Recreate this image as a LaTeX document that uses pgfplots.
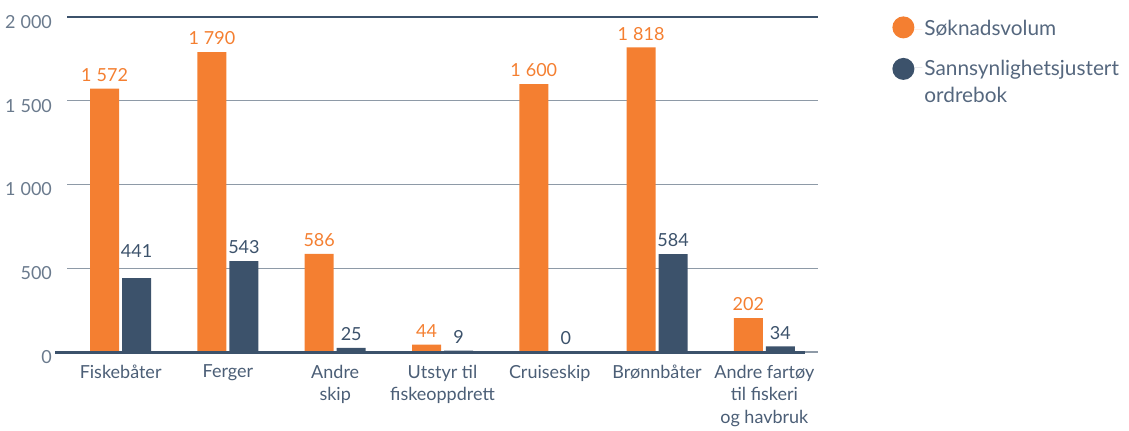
\documentclass[border=0pt]{standalone}
\usepackage{pgfplots}
\pgfplotsset{compat=1.18}
\usepackage{fontspec}
\setmainfont{Lato}
\definecolor{orangeC}{HTML}{F47F31}
\definecolor{darkC}{HTML}{3C526B}
\definecolor{gridC}{HTML}{8E9AA7}
\definecolor{xtxt}{HTML}{4B5E76}
\definecolor{ytxt}{HTML}{6A7A8D}
\definecolor{legtxt}{HTML}{55677E}
\begin{document}
\begin{tikzpicture}
\useasboundingbox (-33.5pt,-39pt) rectangle (531pt,176pt);
\begin{axis}[
  at={(0,0)}, anchor=south west,
  scale only axis, width=375.5pt, height=167.5pt,
  clip=false,
  ybar=1.5pt, bar width=14.5pt,
  xmin=-0.5, xmax=6.5, ymin=0, ymax=2000,
  axis line style={draw=none},
  major tick length=0pt,
  xtick={0,...,6},
  xticklabels={Fiskebåter, Ferger, {Andre\\skip}, {Utstyr til\\fiskeoppdrett}, Cruiseskip, Brønnbåter, {Andre fartøy\\til fiskeri\\og havbruk}},
  xticklabel style={align=center, font=\fontsize{9}{11.3}\selectfont, text=xtxt, yshift=-3pt},
  ytick={0,500,1000,1500},
  extra y ticks={2000},
  extra y tick style={grid style={darkC, line width=0.7pt}},
  ymajorgrids,
  grid style={gridC, line width=0.7pt},
  yticklabel style={font=\fontsize{9}{10.5}\selectfont, text=ytxt, xshift=-4pt, yshift=-2.5pt},
  /pgf/number format/assume math mode=true,
  /pgf/number format/1000 sep={\hspace{0.28em}},
  nodes near coords,
  nodes near coords style={font=\fontsize{9}{10.5}\selectfont},
  legend style={at={(1,1)}, anchor=north west, xshift=34pt, yshift=2.5pt, draw=none, fill=none,
    font=\fontsize{10.4}{13.5}\selectfont, text=legtxt, row sep=7pt,
    nodes={inner sep=1pt}},
  legend cell align=left,
]
\addplot[fill=orangeC, draw=none, nodes near coords style={text=orangeC},
  legend image code/.code={\path (0,0) -- (15pt,0); \fill[orangeC] (5.5pt,1.1pt) circle (5.5pt);}]
  coordinates {(0,1572) (1,1790) (2,586) (3,44) (4,1600) (5,1818) (6,202)};
\addlegendentry{Søknadsvolum}
\addplot[fill=darkC, draw=none,
  visualization depends on={value \coordindex \as \idx},
  nodes near coords style={text=darkC, yshift={(\idx==0)*7}},
  legend image code/.code={\path (0,0) -- (15pt,0); \fill[darkC] (5.5pt,-0.6pt) circle (5.5pt);}]
  coordinates {(0,441) (1,543) (2,25) (3,9) (4,0) (5,584) (6,34)};
\addlegendentry{\begin{tabular}[t]{@{}l@{}}Sannsynlighetsjustert\\ordrebok\end{tabular}}
\draw[darkC, line width=1.5pt] (axis cs:-0.61,0) -- (axis cs:6.38,0);
\end{axis}
\end{tikzpicture}
\end{document}
